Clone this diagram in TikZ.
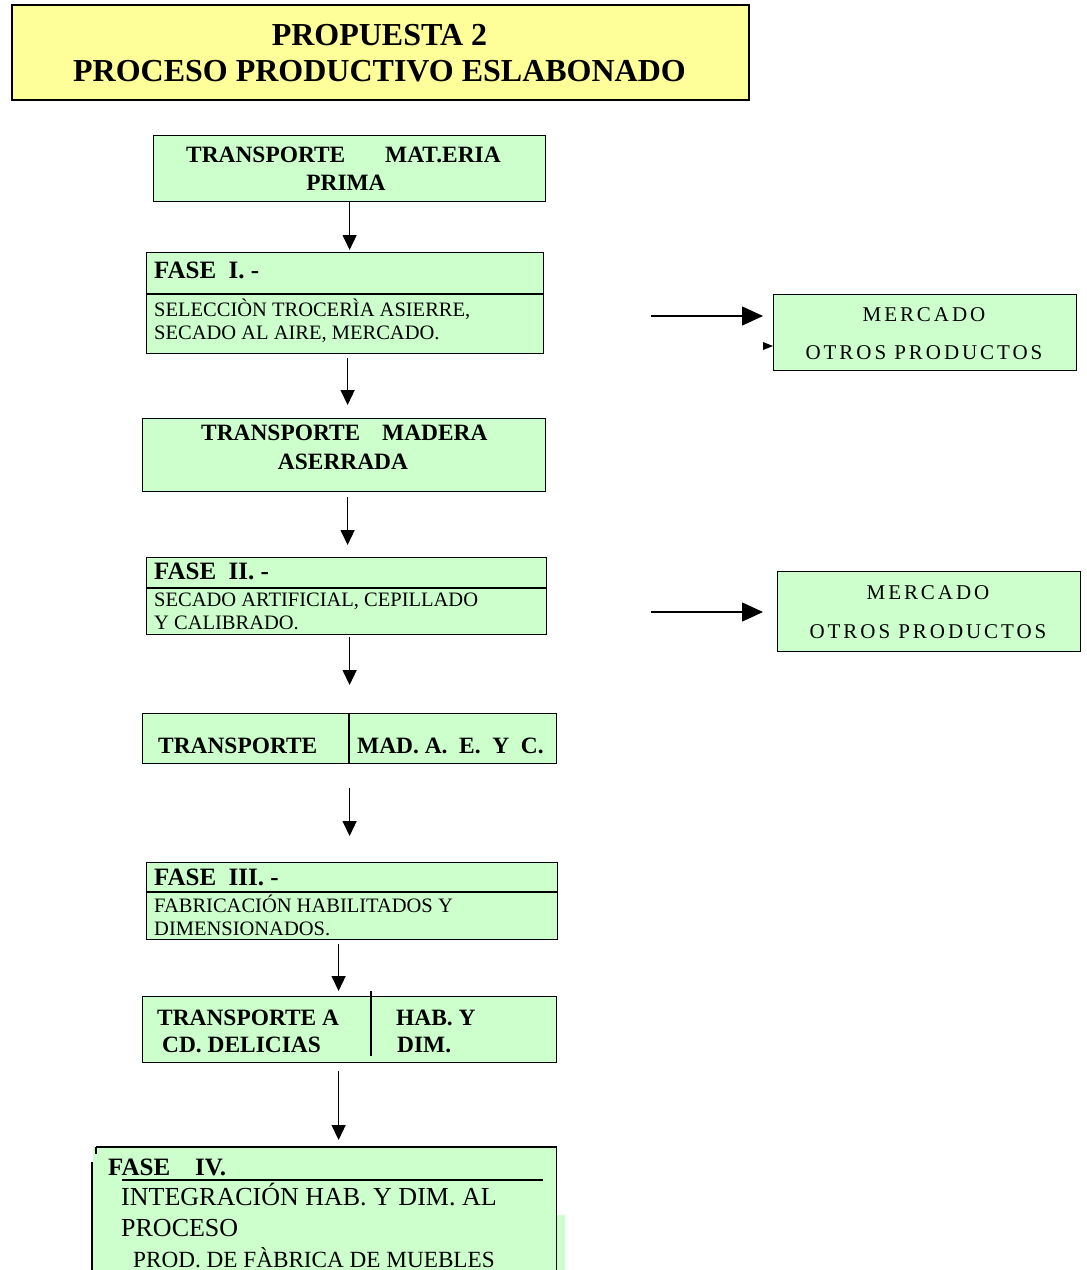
\documentclass[tikz,border=0pt]{standalone}
\usepackage{fontspec}
\setmainfont{Liberation Serif}
\newfontfamily\spacedserif[LetterSpace=14]{Liberation Serif}
\usetikzlibrary{arrows.meta,calc}
\definecolor{boxgreen}{HTML}{CCFFCC}
\definecolor{ttlyellow}{HTML}{FFFF99}
\newcommand\ttlfont{\fontsize{32}{36}\selectfont\bfseries}
\newcommand\hdfont{\fontsize{23.4}{27}\selectfont\bfseries}
\newcommand\fasefont{\fontsize{25}{28}\selectfont\bfseries}
\newcommand\bodyfont{\fontsize{20.5}{24}\selectfont}
\newcommand\bigbodyfont{\fontsize{26}{29}\selectfont}
\newcommand\midbodyfont{\fontsize{23.2}{27}\selectfont}
\newcommand\mktfont{\fontsize{21}{25}\selectfont\spacedserif}
\begin{document}
\begin{tikzpicture}[x=1pt,y=-1pt,
  box/.style={draw, fill=boxgreen, line width=1.2pt, inner sep=0pt, anchor=north west},
  ttlbox/.style={draw, fill=ttlyellow, line width=1.8pt, inner sep=0pt, anchor=north west},
  lbl/.style={inner sep=0pt, anchor=base west},
  clbl/.style={inner sep=0pt, anchor=base},
  rule/.style={line width=1.2pt},
  arr/.style={line width=1.4pt, -{Triangle[length=15pt,width=14pt]}},
  sarr/.style={line width=1.4pt, -{Triangle[length=21pt,width=19pt]}}]
\useasboundingbox (0,0) rectangle (1087,1270);

% title
\node[ttlbox, minimum width=737pt, minimum height=95pt] (ttl) at (11,4) {};
\node[clbl, font=\ttlfont] (ttl1) at (379.5,45) {PROPUESTA 2};
\node[clbl, font=\ttlfont] (ttl2) at (379.5,81) {PROCESO PRODUCTIVO ESLABONADO};

% transport of raw material
\node[box, minimum width=392pt, minimum height=66pt] (b1) at (153,135) {};
\node[lbl, font=\hdfont] (b1a) at (186,162) {TRANSPORTE};
\node[lbl, font=\hdfont] (b1b) at (385,162) {MAT.ERIA};
\node[clbl, font=\hdfont] (b1c) at (346,190) {PRIMA};

% phase I
\node[box, minimum width=397pt, minimum height=101pt] (f1) at (146,252) {};
\draw[rule] ($(f1.north west)+(0,42)$) -- ($(f1.north east)+(0,42)$);
\node[lbl, font=\fasefont] (f1h) at (154,278) {FASE\ \ I. -};
\node[lbl, font=\bodyfont] (f1a) at (154,316) {SELECCIÒN TROCERÌA ASIERRE,};
\node[lbl, font=\bodyfont] (f1b) at (154,339) {SECADO AL AIRE, MERCADO.};

% transport of sawn wood
\node[box, minimum width=403pt, minimum height=73pt] (tma) at (142,418) {};
\node[lbl, font=\hdfont] (tmaa) at (201,440) {TRANSPORTE};
\node[lbl, font=\hdfont] (tmab) at (382,440) {MADERA};
\node[clbl, font=\hdfont] (tmac) at (343,469) {ASERRADA};

% phase II
\node[box, minimum width=400pt, minimum height=77pt] (f2) at (146,557) {};
\draw[rule] ($(f2.north west)+(0,31)$) -- ($(f2.north east)+(0,31)$);
\node[lbl, font=\fasefont] (f2h) at (154,579) {FASE\ \ II. -};
\node[lbl, font=\bodyfont] (f2a) at (154,606) {SECADO ARTIFICIAL, CEPILLADO};
\node[lbl, font=\bodyfont] (f2b) at (154,629) {Y CALIBRADO.};

% transport of dried, planed and calibrated wood
\node[box, minimum width=414pt, minimum height=50pt] (tmad) at (142,713) {};
\draw[rule] ($(tmad.north west)+(207,0)$) -- ($(tmad.south west)+(207,0)$);
\node[lbl, font=\hdfont] (tmada) at (158,753) {TRANSPORTE};
\node[lbl, font=\hdfont] (tmadb) at (357,753) {MAD. A.\ \ E.\ \ Y\ \ C.};

% phase III
\node[box, minimum width=411pt, minimum height=77pt] (f3) at (146,862) {};
\draw[rule] ($(f3.north west)+(0,30)$) -- ($(f3.north east)+(0,30)$);
\node[lbl, font=\fasefont] (f3h) at (154,885) {FASE\ \ III. -};
\node[lbl, font=\bodyfont] (f3a) at (154,912) {FABRICACIÓN HABILITADOS Y};
\node[lbl, font=\bodyfont] (f3b) at (154,935) {DIMENSIONADOS.};

% transport to Cd. Delicias
\node[box, minimum width=414pt, minimum height=66pt] (tra) at (142,996) {};
\draw[line width=1.6pt] ($(tra.north west)+(229,-5)$) -- ($(tra.north west)+(229,60)$);
\node[lbl, font=\hdfont] (traa) at (157,1025) {TRANSPORTE A};
\node[lbl, font=\hdfont] (trab) at (162,1052) {CD. DELICIAS};
\node[lbl, font=\hdfont] (trac) at (396,1025) {HAB. Y};
\node[lbl, font=\hdfont] (trad) at (397,1052) {DIM.};

% phase IV
\node[inner sep=0pt, anchor=north west, fill=boxgreen, minimum width=463pt, minimum height=124pt] (f4) at (93,1147) {};
\fill[boxgreen] ($(f4.north east)+(0,68)$) rectangle ($(f4.south east)+(9,0)$);
\draw[rule] ($(f4.north west)+(3,0)$) -- (f4.north east) -- (f4.south east);
\draw[rule] ($(f4.north west)+(3,0)$) -- ($(f4.north west)+(3,7)$);
\draw[line width=1.6pt] ($(f4.north west)+(-1,15)$) -- ($(f4.south west)+(-1,0)$);
\draw[rule] ($(f4.north west)+(29,33)$) -- ($(f4.north west)+(450,33)$);
\node[lbl, font=\fasefont] (f4h) at (108,1175) {FASE\ \ \ \ IV.};
\node[lbl, font=\bigbodyfont] (f4a) at (121,1205) {INTEGRACIÓN HAB. Y DIM. AL};
\node[lbl, font=\bigbodyfont] (f4b) at (121,1236) {PROCESO};
\node[lbl, font=\midbodyfont] (f4c) at (133,1267) {PROD. DE FÀBRICA DE MUEBLES};

% market boxes
\node[box, minimum width=303pt, minimum height=76pt] (m1) at (773,294) {};
\node[clbl, font=\mktfont] (m1a) at (924,321) {MERCADO};
\node[clbl, font=\mktfont] (m1b) at (924,359) {OTROS PRODUCTOS};
\node[box, minimum width=303pt, minimum height=80pt] (m2) at (777,571) {};
\node[clbl, font=\mktfont] (m2a) at (928,599) {MERCADO};
\node[clbl, font=\mktfont] (m2b) at (928,638) {OTROS PRODUCTOS};

% vertical flow
\draw[arr, shorten >=2pt] (b1.south) -- (b1.south |- f1.north);
\draw[arr, shorten >=13pt] ($(f1.south)+(2.5,4)$) coordinate (p2) -- (p2 |- tma.north);
\draw[arr, shorten >=12pt] ($(tma.south)+(3.5,5)$) coordinate (p3) -- (p3 |- f2.north);
\draw[arr, shorten >=28pt] ($(f2.south)+(3,2)$) coordinate (p4) -- (p4 |- tmad.north);
\draw[arr, shorten >=26pt] ($(tmad.south)+(0,24)$) coordinate (p5) -- (p5 |- f3.north);
\draw[arr, shorten >=5pt] ($(f3.south)+(-13.5,4)$) coordinate (p6) -- (p6 |- tra.north);
\draw[arr, shorten >=7pt] ($(tra.south)+(-11,8)$) coordinate (p7) -- (p7 |- f4.north);

% side flows to the markets
\coordinate (s1) at (651,316);
\coordinate (s2) at (651,612);
\draw[sarr, shorten >=10pt] (s1) -- (s1 -| m1.west);
\draw[sarr, shorten >=14pt] (s2) -- (s2 -| m2.west);
\coordinate (s1b) at (773,346);
\fill (s1b) -- ++(-10,-4) -- ++(0,8) -- cycle;
\end{tikzpicture}
\end{document}
